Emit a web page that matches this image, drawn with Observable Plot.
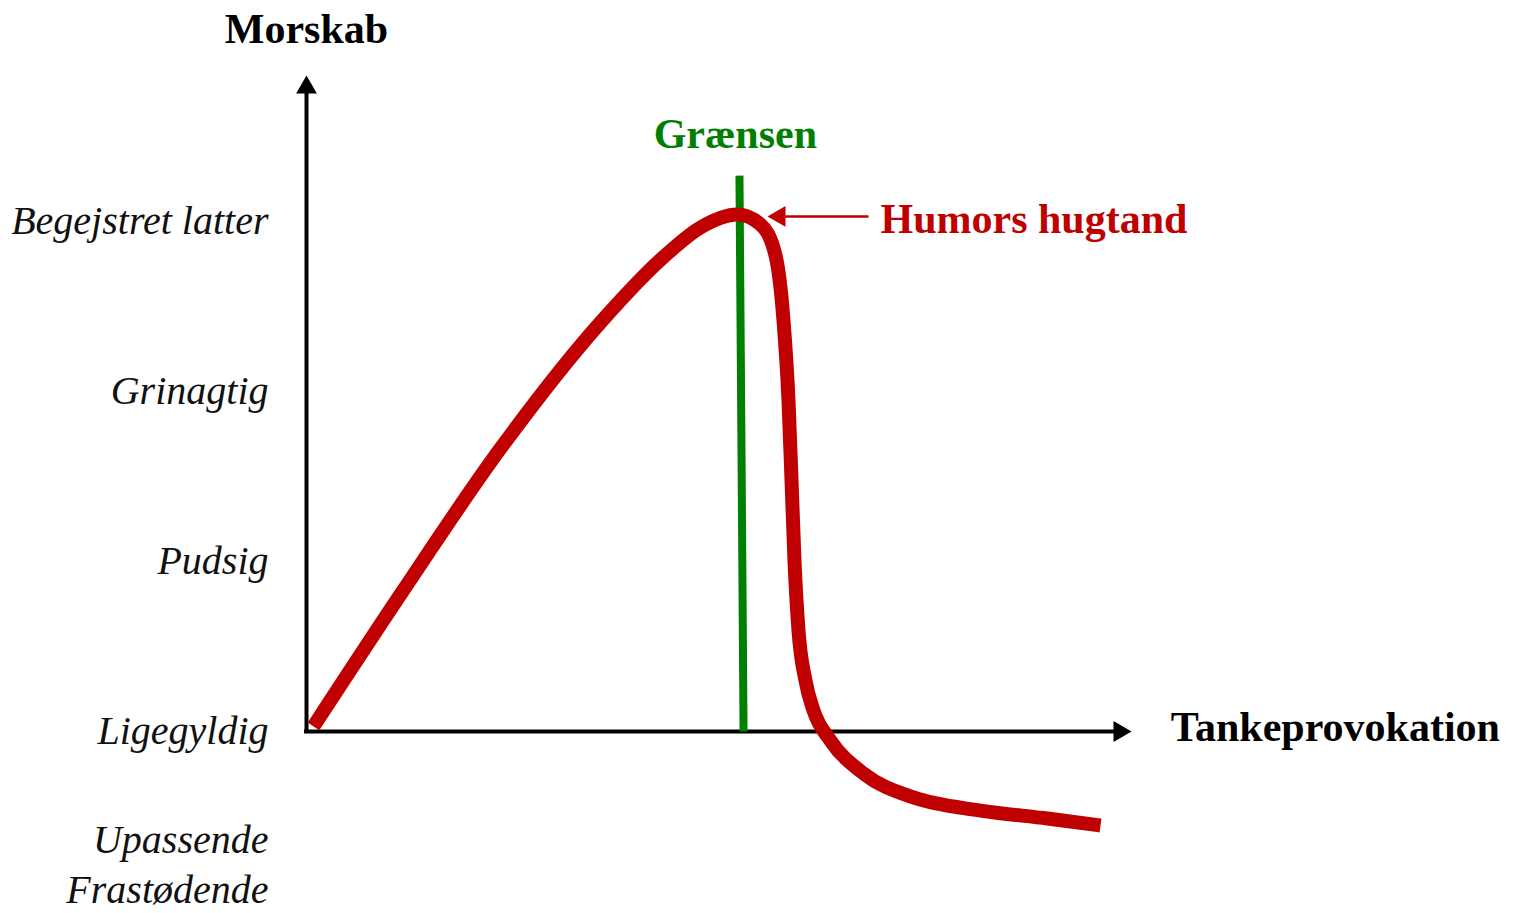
<!DOCTYPE html>
<html>
<head>
<meta charset="utf-8">
<script src="https://cdn.jsdelivr.net/npm/d3@7"></script>
<script src="https://cdn.jsdelivr.net/npm/@observablehq/plot@0.6"></script>
<style>
  html, body { margin: 0; padding: 0; background: #fff; }
  #chart svg { display: block; }
</style>
</head>
<body>
<div id="chart"></div>
<script>
// Y-axis level labels (Morskab) and their positions on the scale
const levels = ["Begejstret latter", "Grinagtig", "Pudsig", "Ligegyldig", "Upassende", "Frastødende"];
const levelValues = [3, 2, 1, 0, -0.64, -0.935];

// Humor curve (Tankeprovokation -> Morskab)
const curveX = [0.085, 1.146, 2.366, 3.585, 4.402, 4.805, 5.256, 5.537, 5.72, 5.817, 5.878, 5.915, 5.951, 6.0, 6.085, 6.183, 6.39, 6.793, 7.402, 8.22, 9.037, 9.683];
const curveY = [0.03, 0.806, 1.665, 2.406, 2.812, 2.965, 3.041, 2.982, 2.8, 2.418, 1.947, 1.476, 1.006, 0.594, 0.3, 0.124, -0.053, -0.247, -0.388, -0.465, -0.512, -0.553];

// Grænsen (limit line)
const limitX = [5.28, 5.33];
const limitY = [3.27, 0];

// Axis titles and annotations
const yTitle = "Morskab";
const xTitle = "Tankeprovokation";
const limitLabel = "Grænsen";
const peakLabel = "Humors hugtand";

const curve = curveX.map((x, i) => ({x, y: curveY[i]}));
const limit = limitX.map((x, i) => ({x, y: limitY[i]}));

const RED = "#c00000";
const GREEN = "#008000";
const FONT = "Liberation Serif";
const headR = Math.sqrt(36 * 3 * Math.sqrt(3) / Math.PI);

const chart = Plot.plot({
  width: 1524,
  height: 913,
  marginLeft: 306,
  marginRight: 398,
  marginTop: 221,
  marginBottom: 182,
  x: {domain: [0, 10], axis: null},
  y: {domain: [0, 3]},
  style: {background: "#fff", fontFamily: FONT, color: "#000"},
  marks: [
    Plot.axisY(levelValues, {
      tickSize: 0,
      tickPadding: 38,
      tickFormat: d => levels[levelValues.indexOf(d)],
      fontSize: 40,
      fontStyle: "italic",
      fontFamily: FONT,
      fill: "#111",
      label: null
    }),
    // axes
    Plot.ruleY([0], {x1: 0, x2: 9.93, stroke: "#000", strokeWidth: 4, strokeLinecap: "square"}),
    Plot.ruleX([0], {y1: 0, y2: 3.79, stroke: "#000", strokeWidth: 4, strokeLinecap: "square"}),
    Plot.dot([{x: 0, y: 3.788}], {x: "x", y: "y", symbol: "triangle", r: headR, fill: "#000", stroke: null}),
    Plot.dot([{x: 9.915, y: 0}], {x: "x", y: "y", symbol: "triangle", r: headR, fill: "#000", stroke: null, rotate: 90}),
    // limit line
    Plot.line(limit, {x: "x", y: "y", stroke: GREEN, strokeWidth: 8, strokeLinecap: "butt"}),
    // humor curve
    Plot.line(curve, {x: "x", y: "y", stroke: RED, strokeWidth: 14, curve: "monotone-x", strokeLinecap: "butt"}),
    // annotation arrow
    Plot.ruleY([3.03], {x1: 5.8, x2: 6.86, stroke: RED, strokeWidth: 2.5}),
    Plot.dot([{x: 5.768, y: 3.03}], {x: "x", y: "y", symbol: "triangle", r: headR, fill: RED, stroke: null, rotate: -90}),
    // texts
    Plot.text([yTitle], {x: () => 0, y: () => 4.13, text: d => d, fontSize: 42, fontWeight: "bold", fontFamily: FONT, fill: "#000", textAnchor: "middle"}),
    Plot.text([xTitle], {x: () => 10.54, y: () => 0.026, text: d => d, fontSize: 42, fontWeight: "bold", fontFamily: FONT, fill: "#000", textAnchor: "start"}),
    Plot.text([limitLabel], {x: () => 5.23, y: () => 3.51, text: d => d, fontSize: 42, fontWeight: "bold", fontFamily: FONT, fill: GREEN, textAnchor: "middle"}),
    Plot.text([peakLabel], {x: () => 7.0, y: () => 3.01, text: d => d, fontSize: 42, fontWeight: "bold", fontFamily: FONT, fill: RED, textAnchor: "start"})
  ]
});
document.getElementById("chart").appendChild(chart);
</script>
</body>
</html>
